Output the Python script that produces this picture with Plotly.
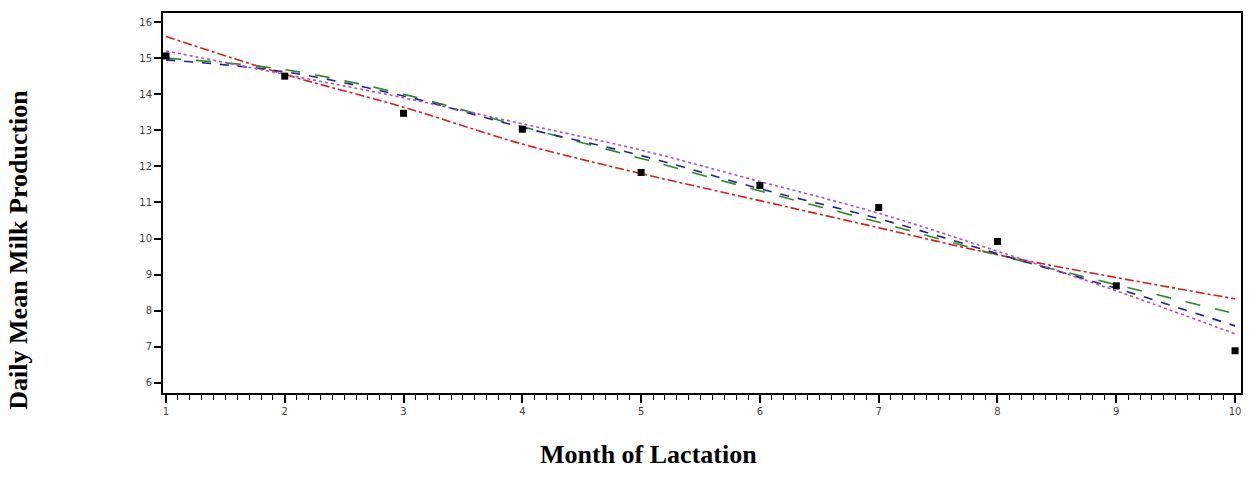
import plotly.graph_objects as go

months = [1, 2, 3, 4, 5, 6, 7, 8, 9, 10]
observed = [15.06, 14.50, 13.47, 13.03, 11.83, 11.47, 10.86, 9.92, 8.69, 6.89]

fit_red = [15.60, 14.55, 13.64, 12.62, 11.80, 11.05, 10.30, 9.55, 8.92, 8.33]
fit_green = [15.00, 14.68, 14.00, 13.10, 12.22, 11.32, 10.45, 9.55, 8.72, 7.92]
fit_blue = [14.95, 14.62, 13.95, 13.08, 12.30, 11.38, 10.55, 9.58, 8.62, 7.58]
fit_magenta = [15.20, 14.55, 13.90, 13.18, 12.45, 11.58, 10.70, 9.65, 8.55, 7.36]

y_ticks = [6, 7, 8, 9, 10, 11, 12, 13, 14, 15, 16]
x_ticks = [1, 2, 3, 4, 5, 6, 7, 8, 9, 10]

x_title = "Month of Lactation"
y_title = "Daily Mean Milk Production"

fig = go.Figure()

series = [
    (fit_red, "#d42020", "dashdot"),
    (fit_green, "#2a8a2a", "longdash"),
    (fit_blue, "#24248c", "dash"),
    (fit_magenta, "#b050c0", "dot"),
]
for vals, col, dash in series:
    fig.add_trace(go.Scatter(
        x=months, y=vals, mode="lines",
        line=dict(color=col, width=1.6, dash=dash, shape="spline", smoothing=1.0),
        showlegend=False, hoverinfo="skip"))

fig.add_trace(go.Scatter(
    x=months, y=observed, mode="markers",
    marker=dict(symbol="square", size=7, color="black"),
    showlegend=False))

fig.update_layout(
    width=1254, height=498,
    margin=dict(l=163, r=11, t=13, b=105),
    paper_bgcolor="white", plot_bgcolor="white",
    showlegend=False,
    xaxis=dict(
        range=[0.975, 10.05], tickmode="array", tickvals=x_ticks,
        ticktext=[str(v) for v in x_ticks],
        ticks="outside", ticklen=8, tickwidth=1.5, tickcolor="black",
        minor=dict(ticks="outside", ticklen=5, dtick=0.1, tickcolor="black", tickwidth=1),
        showline=True, linecolor="black", linewidth=2, mirror=True,
        showgrid=False, zeroline=False,
        tickfont=dict(size=10, color="#444444", family="DejaVu Sans"),
    ),
    yaxis=dict(
        range=[5.72, 16.25], tickmode="array", tickvals=y_ticks,
        ticktext=[str(v) for v in y_ticks],
        ticks="outside", ticklen=7, tickwidth=1.5, tickcolor="black",
        showline=True, linecolor="black", linewidth=2, mirror=True,
        showgrid=False, zeroline=False,
        tickfont=dict(size=10, color="#444444", family="DejaVu Sans"),
    ),
    annotations=[
        dict(text="<b>" + x_title + "</b>", xref="paper", yref="paper",
             x=0.45, y=-0.163, xanchor="center", yanchor="middle", showarrow=False,
             font=dict(size=26, family="Liberation Serif", color="black")),
        dict(text="<b>" + y_title + "</b>", xref="paper", yref="paper",
             x=-0.134, y=0.376, xanchor="center", yanchor="middle", showarrow=False,
             textangle=-90,
             font=dict(size=26, family="Liberation Serif", color="black")),
    ],
)

fig.write_html("out.html")
